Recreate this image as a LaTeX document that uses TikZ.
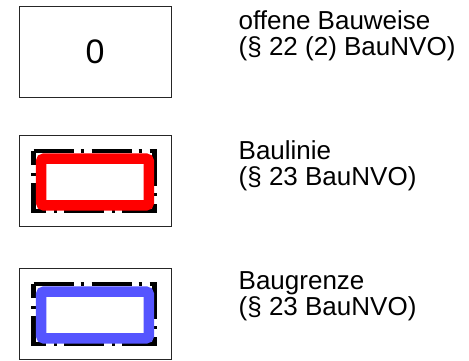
\documentclass[tikz,border=0pt]{standalone}
\usepackage{fontspec}
\setmainfont{Liberation Sans}
\definecolor{grenzblau}{RGB}{85,85,255}
\begin{document}
\begin{tikzpicture}[x=1pt,y=-1pt]
  \tikzstyle{legbox}=[draw=black!85,line width=0.8pt,minimum width=152pt,minimum height=91pt,inner sep=0pt]
  \tikzstyle{legtext}=[anchor=base west,align=left,inner sep=0pt,font=\fontsize{26}{26}\selectfont]
  \tikzstyle{dashdot}=[draw=black,line width=4.5pt,dash pattern=on 40pt off 7pt on 3pt off 8pt]
  \tikzstyle{linie}=[line width=10.5pt,rounded corners=3pt]
  \useasboundingbox (0,0) rectangle (469,361);
  % offene Bauweise
  \node [legbox] (b1) at (95,52) {\fontsize{34}{34}\selectfont 0};
  \node [legtext] (t1) at (238.5,55.5) {offene Bauweise\\(\S{} 22 (2) BauNVO)};
  % Baulinie
  \node [legbox] (b2) at (95,180.5) {};
  \draw [dashdot] ([shift={(15,16.5)}]b2.north west) -- ++(121,0) -- ++(0,60) -- ++(-121,0) -- cycle;
  \draw [linie,draw=red] ([shift={(22.5,24)}]b2.north west) rectangle ([shift={(-22.5,-21)}]b2.south east);
  \node [legtext] (t2) at (238.5,185) {Baulinie\\(\S{} 23 BauNVO)};
  % Baugrenze
  \node [legbox] (b3) at (95,313.5) {};
  \draw [dashdot] ([shift={(15,16.5)}]b3.north west) -- ++(121,0) -- ++(0,60) -- ++(-121,0) -- cycle;
  \draw [linie,draw=grenzblau] ([shift={(22.5,24)}]b3.north west) rectangle ([shift={(-22.5,-21)}]b3.south east);
  \node [legtext] (t3) at (238.5,315) {Baugrenze\\(\S{} 23 BauNVO)};
\end{tikzpicture}
\end{document}
